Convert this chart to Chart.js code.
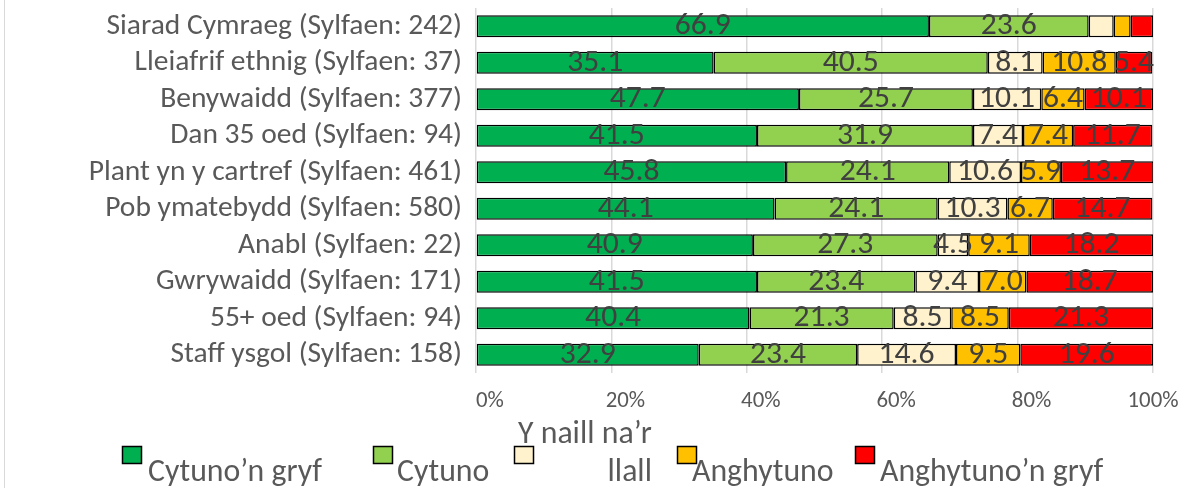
<!DOCTYPE html>
<html><head><meta charset="utf-8">
<script src="https://cdn.jsdelivr.net/npm/chart.js@4"></script>
<style>html,body{margin:0;padding:0;background:#fff}</style>
</head><body>
<canvas id="c" width="1184" height="488" style="display:block"></canvas>
<script>
const categories = [
  "Siarad Cymraeg (Sylfaen: 242)",
  "Lleiafrif ethnig (Sylfaen: 37)",
  "Benywaidd (Sylfaen: 377)",
  "Dan 35 oed (Sylfaen: 94)",
  "Plant yn y cartref (Sylfaen: 461)",
  "Pob ymatebydd (Sylfaen: 580)",
  "Anabl (Sylfaen: 22)",
  "Gwrywaidd (Sylfaen: 171)",
  "55+ oed (Sylfaen: 94)",
  "Staff ysgol (Sylfaen: 158)"
];
const seriesNames = ["Cytuno\u2019n gryf", "Cytuno", "Y naill na\u2019r llall", "Anghytuno", "Anghytuno\u2019n gryf"];
const cytunoGryf    = [66.9, 35.1, 47.7, 41.5, 45.8, 44.1, 40.9, 41.5, 40.4, 32.9];
const cytuno        = [23.6, 40.5, 25.7, 31.9, 24.1, 24.1, 27.3, 23.4, 21.3, 23.4];
const naillNaLlall  = [3.7, 8.1, 10.1, 7.4, 10.6, 10.3, 4.5, 9.4, 8.5, 14.6];
const anghytuno     = [2.5, 10.8, 6.4, 7.4, 5.9, 6.7, 9.1, 7.0, 8.5, 9.5];
const anghytunoGryf = [3.3, 5.4, 10.1, 11.7, 13.7, 14.7, 18.2, 18.7, 21.3, 19.6];
const xTickValues = [0, 20, 40, 60, 80, 100];
const seriesColors = ["#00B050", "#92D050", "#FFF2CC", "#FFC000", "#FF0000"];

const FAMILY = 'Carlito, Lato, "Open Sans", sans-serif';
const mctx = document.createElement('canvas').getContext('2d');
function fit(text, target) {
  mctx.font = '100px ' + FAMILY;
  return Math.round(1000 * target / mctx.measureText(text).width) / 10;
}
const catSize = fit(categories[0], 355);
const tickSize = fit('100%', 51);
const labelSize = fit('23.6', 56);
const legendSize = fit(seriesNames[0], 174);

const seriesData = [cytunoGryf, cytuno, naillNaLlall, anghytuno, anghytunoGryf];

const frameAndLabels = {
  id: 'frameAndLabels',
  beforeDraw(chart) {
    const ctx = chart.ctx;
    ctx.save();
    ctx.strokeStyle = '#d9d9d9';
    ctx.lineWidth = 1;
    ctx.beginPath(); ctx.moveTo(4.5, 0); ctx.lineTo(4.5, chart.height); ctx.stroke();
    ctx.restore();
  },
  afterDatasetsDraw(chart) {
    const ctx = chart.ctx;
    ctx.save();
    ctx.font = labelSize + 'px ' + FAMILY;
    ctx.fillStyle = '#404040';
    ctx.textAlign = 'center';
    ctx.textBaseline = 'middle';
    chart.data.datasets.forEach((ds, di) => {
      const meta = chart.getDatasetMeta(di);
      meta.data.forEach((bar, i) => {
        const v = ds.data[i];
        if (v < 4) return;
        const p = bar.getProps(['x', 'base', 'y'], true);
        ctx.fillText(v.toFixed(1), (p.x + p.base) / 2, p.y);
      });
    });
    ctx.restore();
  },
  afterDraw(chart) {
    const ctx = chart.ctx;
    const markerX = [122, 373, 514, 677, 855];
    const textX = [148, 397, 518, 692, 880];
    ctx.save();
    ctx.font = legendSize + 'px ' + FAMILY;
    ctx.textBaseline = 'alphabetic';
    chart.data.datasets.forEach((ds, i) => {
      ctx.fillStyle = ds.backgroundColor;
      ctx.fillRect(markerX[i], 446, 20, 18);
      ctx.strokeStyle = '#000';
      ctx.lineWidth = 1.5;
      ctx.strokeRect(markerX[i] + 0.5, 446.5, 19, 17);
      ctx.fillStyle = '#595959';
      const name = ds.label;
      if (i === 2) {
        const k = name.lastIndexOf(' ');
        ctx.textAlign = 'left';
        ctx.fillText(name.slice(0, k), textX[i], 443);
        const w1 = ctx.measureText(name.slice(0, k)).width;
        ctx.textAlign = 'right';
        ctx.fillText(name.slice(k + 1), textX[i] + w1, 481);
      } else {
        ctx.textAlign = 'left';
        ctx.fillText(name, textX[i], 481);
      }
    });
    ctx.restore();
  }
};

new Chart(document.getElementById('c'), {
  type: 'bar',
  data: {
    labels: categories,
    datasets: seriesData.map((d, i) => ({
      label: seriesNames[i],
      data: d,
      backgroundColor: seriesColors[i],
      borderColor: '#000',
      borderWidth: 1.5,
      borderSkipped: false,
      barPercentage: 0.6,
      categoryPercentage: 1
    }))
  },
  options: {
    indexAxis: 'y',
    responsive: false,
    animation: false,
    layout: { padding: { top: 8, right: 31, bottom: 0, left: 0 } },
    scales: {
      x: {
        stacked: true, min: 0, max: 100,
        afterBuildTicks: s => { s.ticks = xTickValues.map(v => ({ value: v })); },
        afterFit: s => { s.height = 115; s.paddingLeft = 0; s.paddingRight = 0; },
        grid: { color: '#d9d9d9', lineWidth: 1.5, drawTicks: false },
        border: { display: false },
        ticks: {
          padding: 15, color: '#595959', maxRotation: 0,
          font: { family: FAMILY, size: tickSize },
          callback: v => v === 100 ? '100%' : '\u2002\u2002 ' + v + '%'
        }
      },
      y: {
        stacked: true,
        afterFit: s => { s.width = 476; s.paddingTop = 0; s.paddingBottom = 0; },
        grid: { display: false, drawTicks: false },
        border: { display: false },
        ticks: { padding: 14, color: '#595959', autoSkip: false, font: { family: FAMILY, size: catSize } }
      }
    },
    plugins: { legend: { display: false }, tooltip: { enabled: false } }
  },
  plugins: [frameAndLabels]
});
</script>
</body></html>
